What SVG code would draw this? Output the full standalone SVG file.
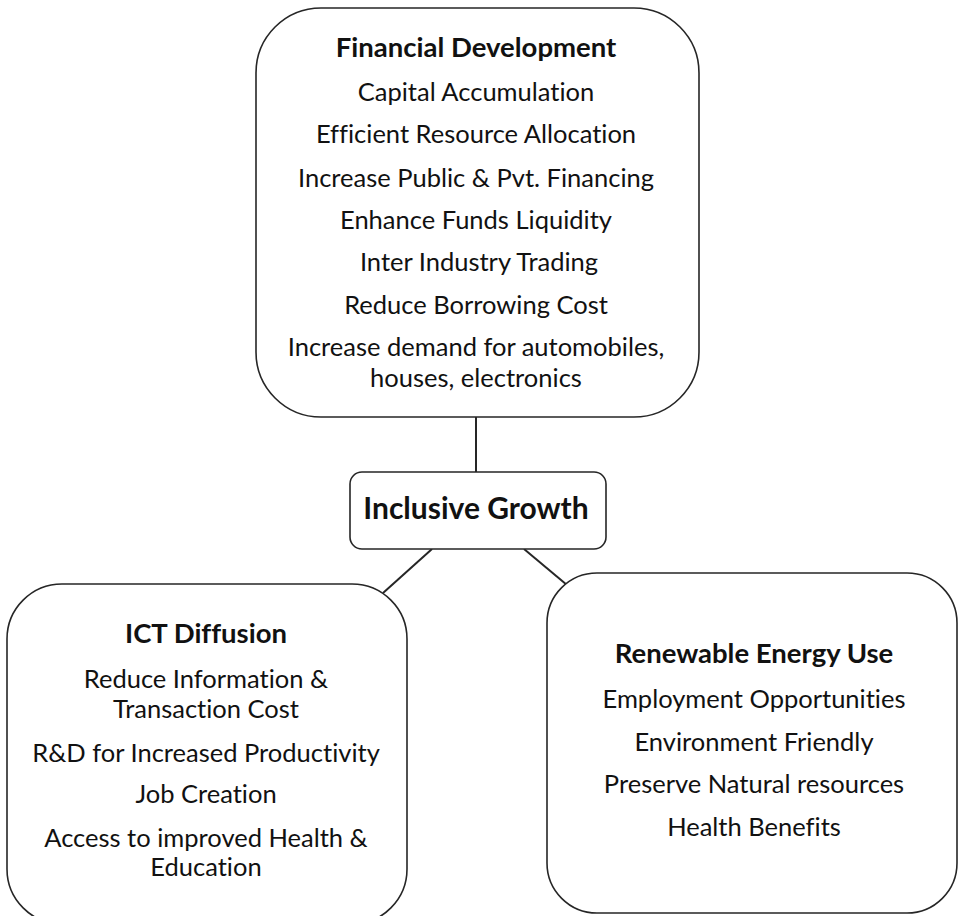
<svg xmlns="http://www.w3.org/2000/svg" width="959" height="916" viewBox="0 0 959 916">
  <style>
    .box { fill: #ffffff; stroke: #262626; stroke-width: 1.6; }
    .link { stroke: #262626; stroke-width: 2; fill: none; }
    text { font-family: Lato, "Open Sans", "Liberation Sans", sans-serif; fill: #111111; text-anchor: middle; font-variant-ligatures: none; font-feature-settings: "liga" 0, "clig" 0; }
    .title { font-size: 27.5px; font-weight: bold; }
    .item { font-size: 25.5px; }
    .hub { font-size: 30px; font-weight: bold; }
  </style>
  <rect width="959" height="916" fill="#ffffff"/>

  <!-- connectors between the hub and the three factor boxes -->
  <g id="connectors">
    <line class="link" x1="476" y1="417" x2="476" y2="472"/>
    <line class="link" x1="432" y1="549" x2="383" y2="593"/>
    <line class="link" x1="524" y1="549" x2="567" y2="585"/>
  </g>

  <g id="financial-development">
    <rect class="box" x="256" y="8" width="443" height="409" rx="65" ry="65"/>
    <text class="title" x="476" y="57">Financial Development</text>
    <text class="item" x="476" y="101">Capital Accumulation</text>
    <text class="item" x="476" y="143">Efficient Resource Allocation</text>
    <text class="item" x="476" y="187">Increase Public &amp; Pvt. Financing</text>
    <text class="item" x="476" y="229">Enhance Funds Liquidity</text>
    <text class="item" x="479" y="271">Inter Industry Trading</text>
    <text class="item" x="476" y="314">Reduce Borrowing Cost</text>
    <text class="item" x="476" y="356">Increase demand for automobiles,</text>
    <text class="item" x="476" y="387">houses, electronics</text>
  </g>

  <g id="inclusive-growth">
    <rect class="box" x="350" y="472" width="256" height="77" rx="12" ry="12"/>
    <text class="hub" x="476" y="519">Inclusive Growth</text>
  </g>

  <g id="ict-diffusion">
    <rect class="box" x="7" y="584" width="400" height="340" rx="55" ry="55"/>
    <text class="title" x="206" y="643">ICT Diffusion</text>
    <text class="item" x="206" y="688">Reduce Information &amp;</text>
    <text class="item" x="206" y="718">Transaction Cost</text>
    <text class="item" x="206" y="762">R&amp;D for Increased Productivity</text>
    <text class="item" x="206" y="803">Job Creation</text>
    <text class="item" x="206" y="847">Access to improved Health &amp;</text>
    <text class="item" x="206" y="876">Education</text>
  </g>

  <g id="renewable-energy">
    <rect class="box" x="547" y="573" width="410" height="340" rx="50" ry="50"/>
    <text class="title" x="754" y="663">Renewable Energy Use</text>
    <text class="item" x="754" y="708">Employment Opportunities</text>
    <text class="item" x="754" y="751">Environment Friendly</text>
    <text class="item" x="754" y="793">Preserve Natural resources</text>
    <text class="item" x="754" y="836">Health Benefits</text>
  </g>
</svg>
